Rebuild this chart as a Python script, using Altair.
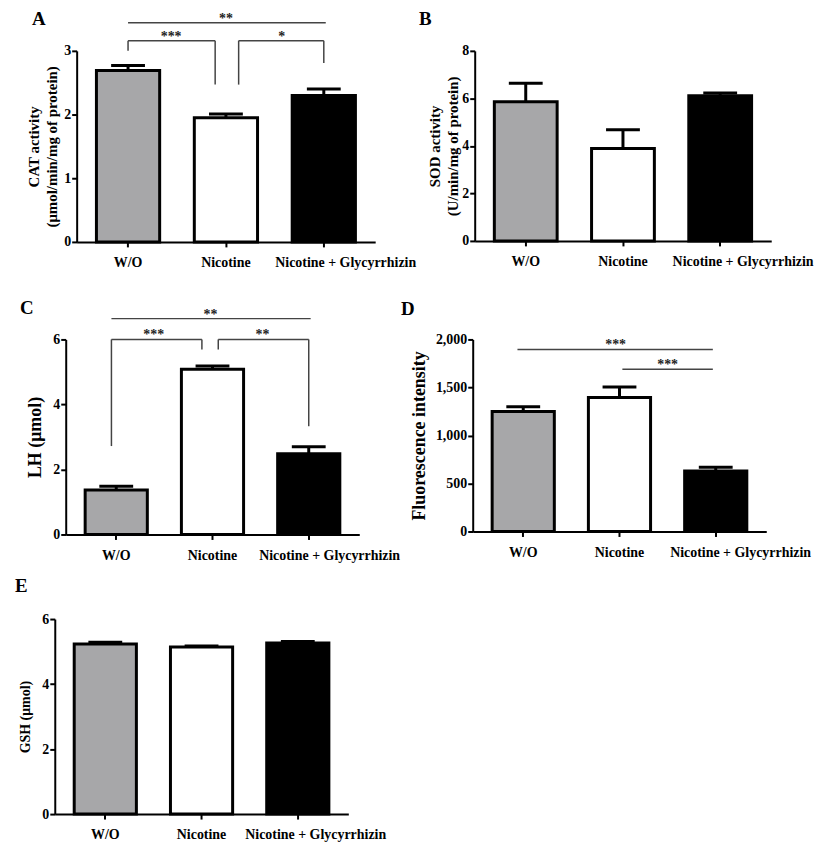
import altair as alt
import pandas as pd

FONT = "Liberation Serif"

categories = ["W/O", "Nicotine", "Nicotine + Glycyrrhizin"]
fills = ["#a7a7a9", "#ffffff", "#000000"]

# Panel A: CAT activity
cat_mean = [2.69, 1.95, 2.30]
cat_err = [0.08, 0.06, 0.10]
# Panel B: SOD activity
sod_mean = [5.86, 3.89, 6.11]
sod_err = [0.78, 0.79, 0.12]
# Panel C: LH
lh_mean = [1.37, 5.08, 2.48]
lh_err = [0.11, 0.10, 0.22]
# Panel D: Fluorescence intensity
fl_mean = [1250, 1395, 630]
fl_err = [50, 110, 40]
# Panel E: GSH
gsh_mean = [5.23, 5.14, 5.26]
gsh_err = [0.06, 0.03, 0.05]

# significance brackets: x in category-index units, y in data units
a_seg_x = [0.00, 0.00, 0.00, 0.89, 1.13, 1.13, 2.00]
a_seg_x2 = [2.02, 0.00, 0.89, 0.89, 1.13, 2.00, 2.00]
a_seg_y = [3.44, 3.00, 3.16, 3.16, 2.47, 3.16, 3.16]
a_seg_y2 = [3.44, 3.16, 3.16, 2.47, 3.16, 3.16, 2.81]
a_lab = ["**", "***", "*"]
a_lab_x = [1.00, 0.44, 1.57]
a_lab_y = [3.44, 3.16, 3.16]

c_seg_x = [-0.05, -0.05, -0.05, 0.89, 1.06, 1.06, 2.00]
c_seg_x2 = [2.02, -0.05, 0.89, 0.89, 1.06, 2.00, 2.00]
c_seg_y = [6.64, 2.72, 6.00, 6.00, 5.69, 6.00, 6.00]
c_seg_y2 = [6.64, 6.00, 6.00, 5.69, 6.00, 6.00, 3.33]
c_lab = ["**", "***", "**"]
c_lab_x = [0.98, 0.39, 1.52]
c_lab_y = [6.64, 6.00, 6.00]

d_seg_x = [-0.06, 1.03]
d_seg_x2 = [1.97, 1.97]
d_seg_y = [1896, 1689]
d_seg_y2 = [1896, 1689]
d_lab = ["***", "***"]
d_lab_x = [0.96, 1.50]
d_lab_y = [1896, 1689]

P_IN, P_OUT = 0.354, 0.202
_D0 = -(P_OUT + (1 - P_IN) / 2)
XQ_DOMAIN = [_D0, _D0 + (3 - P_IN + 2 * P_OUT)]


def panel(means, errs, ytitle, ymax, yticks, width, height, letter, letter_x, letter_y,
          title_size=15, title_pad=4, fmt="d", last_shift=22, seg=None, lab=None,
          frame=None):
    df = pd.DataFrame({"group": categories, "mean": means,
                       "top": [m + e for m, e in zip(means, errs)]})
    xenc = alt.X("group:N", sort=categories,
                 scale=alt.Scale(paddingInner=P_IN, paddingOuter=P_OUT),
                 axis=alt.Axis(title=None, labelAngle=0, labelFontSize=14, labelPadding=9,
                               labelFont=FONT, labelFontWeight="bold",
                               labelOffset={"condition": {"test": "datum.value === '%s'" % categories[2],
                                                          "value": last_shift},
                                            "value": 0}))
    yscale = alt.Scale(domain=[0, ymax], nice=False, zero=True)
    yaxis_kw = dict(title=ytitle, values=yticks, format=fmt, titleFontSize=title_size,
                    titleFont=FONT, titleFontWeight="bold", titlePadding=title_pad,
                    labelFontSize=14, labelFont=FONT, labelFontWeight="bold", labelPadding=1,
                    titleLineHeight=title_size + 3)
    base = alt.Chart(df)
    bars = base.mark_bar(stroke="black", strokeWidth=3).encode(
        x=xenc,
        y=alt.Y("mean:Q", scale=yscale, axis=alt.Axis(**yaxis_kw)),
        fill=alt.Fill("group:N", scale=alt.Scale(domain=categories, range=fills), legend=None),
    )
    err = base.mark_rule(strokeWidth=3, color="black").encode(
        x=alt.X("group:N", sort=categories), y=alt.Y("mean:Q"), y2="top:Q")
    cap = base.mark_tick(size=34, thickness=3, color="black", opacity=1,
                         orient="horizontal").encode(
        x=alt.X("group:N", sort=categories), y=alt.Y("top:Q"))
    inner = alt.layer(bars, err, cap)
    layers = [inner]

    xq = alt.Scale(domain=XQ_DOMAIN, nice=False, zero=False)
    yq = alt.Scale(domain=[0, ymax], nice=False, zero=True)
    if seg is not None:
        sdf = pd.DataFrame({"x": seg[0], "x2": seg[1], "y": seg[2], "y2": seg[3]})
        layers.append(alt.Chart(sdf).mark_rule(color="#444444", strokeWidth=1.5).encode(
            x=alt.X("x:Q", scale=xq, axis=None), x2="x2:Q",
            y=alt.Y("y:Q", scale=yq, axis=None), y2="y2:Q"))
        ldf = pd.DataFrame({"t": lab[0], "x": lab[1], "y": lab[2]})
        layers.append(alt.Chart(ldf).mark_text(font=FONT, fontSize=14, fontWeight="bold",
                                               color="#222222", baseline="alphabetic", dy=0).encode(
            x=alt.X("x:Q", scale=xq, axis=None),
            y=alt.Y("y:Q", scale=yq, axis=None), text="t:N"))
    one = pd.DataFrame({"t": [letter]})
    layers.append(alt.Chart(one).mark_text(font=FONT, fontSize=19, fontWeight="bold",
                                           color="black", align="left",
                                           baseline="alphabetic").encode(
        x=alt.value(letter_x), y=alt.value(letter_y), text="t:N"))
    if frame is not None:
        # invisible rule fixing this row's outer extent for the page layout
        fx, ft, fb = frame
        layers.append(alt.Chart(one).mark_rule(strokeWidth=1, opacity=0).encode(
            x=alt.value(fx), y=alt.value(-ft), y2=alt.value(height + fb)))
    return alt.layer(*layers).resolve_scale(x="independent", y="independent").properties(
        width=width, height=height)


def spacer(w, h):
    return alt.Chart(pd.DataFrame({"a": [0]})).mark_point(opacity=0).encode(
        x=alt.value(0), y=alt.value(0)).properties(width=w, height=h)


pA = panel(cat_mean, cat_err, ["CAT activity", "(μmol/min/mg  of protein)"], 3, [0, 1, 2, 3],
           300, 192, "A", -45, -26, title_size=15, title_pad=4, last_shift=22,
           seg=(a_seg_x, a_seg_x2, a_seg_y, a_seg_y2), lab=(a_lab, a_lab_x, a_lab_y),
           frame=(-60, 40, 40))
pB = panel(sod_mean, sod_err, ["SOD activity", "(U/min/mg  of protein)"], 8, [0, 2, 4, 6, 8],
           298, 191, "B", -56, -26, title_size=15, title_pad=1, last_shift=23)
pC = panel(lh_mean, lh_err, "LH (μmol)", 6, [0, 2, 4, 6],
           295, 196, "C", -46, -26, title_size=18, title_pad=8, last_shift=21,
           seg=(c_seg_x, c_seg_x2, c_seg_y, c_seg_y2), lab=(c_lab, c_lab_x, c_lab_y),
           frame=(-53, 58, 40))
pD = panel(fl_mean, fl_err, "Fluorescence intensity", 2000, [0, 500, 1000, 1500, 2000],
           295, 193, "D", -72, -25, title_size=18, title_pad=7, fmt=",d", last_shift=25,
           seg=(d_seg_x, d_seg_x2, d_seg_y, d_seg_y2), lab=(d_lab, d_lab_x, d_lab_y))
pE = panel(gsh_mean, gsh_err, "GSH (μmol)", 6, [0, 2, 4, 6],
           295, 196, "E", -40, -27, title_size=14, title_pad=9, last_shift=18,
           frame=(-45, 45, 30))

row1 = alt.hconcat(spacer(22, 1), pA, spacer(100, 1), pB, spacing=0, bounds="flush")
row2 = alt.hconcat(spacer(11, 1), pC, spacer(114, 1), pD, spacing=0, bounds="flush")

chart = alt.concat(row1, row2, pE, columns=1, spacing=0, align="none").properties(
    padding={"left": 2, "top": 0, "right": 5, "bottom": 0}
).configure_view(stroke=None).configure_axis(
    grid=False, domainColor="black", domainWidth=2, tickColor="black", tickWidth=2,
    tickSize=5, labelColor="black", titleColor="black"
)

chart.save("out.html", embed_options={"renderer": "svg", "actions": False})
